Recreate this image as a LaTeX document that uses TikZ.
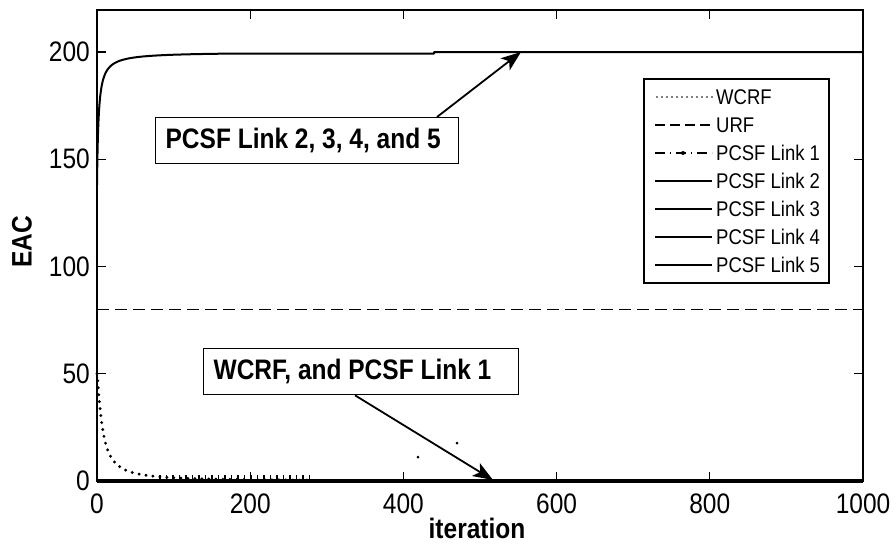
\documentclass[tikz,border=0pt]{standalone}
\usepackage{graphicx}
\usepackage{fontspec}
\setmainfont{Liberation Sans}
\usetikzlibrary{calc,arrows.meta}
% text in this figure is set slightly taller than wide
\newcommand{\tallbox}[1]{\scalebox{1}[1.15]{#1}}

\begin{document}
\begin{tikzpicture}[x=1pt,y=-1pt,
  axisline/.style={line width=1.4pt},
  tickmark/.style={line width=1.1pt},
  ticklab/.style={font=\fontsize{24.5}{28}\selectfont, inner sep=0pt},
  boldlab/.style={font=\bfseries\fontsize{24.5}{28}\selectfont, inner sep=0pt},
  annot/.style={draw, line width=1.3pt, anchor=north west,
    font=\bfseries\fontsize{24.5}{28}\selectfont,
    minimum height=46pt, inner xsep=10pt, inner ysep=0pt},
  legtext/.style={anchor=west, inner sep=0pt, font=\fontsize{18.5}{22}\selectfont},
  pointer/.style={line width=1.8pt, -{Stealth[length=20pt,width=15pt,inset=5pt]}},
  curve/.style={line width=2pt, line join=round},
  dotcurve/.style={line width=3.2pt, line cap=round, dash pattern=on 0pt off 7pt},
  dashcurve/.style={line width=1.4pt, dash pattern=on 12pt off 6pt},
]
\useasboundingbox (0,0) rectangle (896,550);
\fill[white] (0,0) rectangle (896,550);

% ---- data curves (iteration on x, EAC on y) ----
\begin{scope}[shift={(97,481)}, x=0.766pt, y=2.145pt]
  % URF
  \draw[dashcurve] (0,80) -- (1000,80);
  % WCRF
  \draw[dotcurve] plot[domain=0:16.73, samples=140, variable=\s]
    ({\s*\s}, {50/(1+(\s*\s/7)^1.3)});
  % PCSF Link 2..5
  \draw[curve] plot[domain=0:13.04, samples=90, variable=\s]
    ({\s*\s}, {200-130/(\s*\s+2.1)})
    -- (440,199.3) -- (440,200) -- (1000,200);
  % PCSF Link 1 (flat at zero)
  \draw[line width=4.5pt] (0,0) -- (1000,0);
\end{scope}

% Link 1 point markers along the bottom
\foreach \i in {0,...,23}
  \draw[line width=1.3pt] ({160+6.5*\i},481) -- ++(0,-6);
\fill (418,457) circle (1.5);
\fill (457,443) circle (1.5);

% ---- axes frame and ticks ----
\draw[axisline] (97,10) rectangle (863,481);
\foreach \px in {250.2,403.4,556.6,709.8} {
  \draw[tickmark] (\px,481) -- (\px,472);
  \draw[tickmark] (\px,10) -- (\px,19);
}
\foreach \py in {373.75,266.5,159.25,52} {
  \draw[tickmark] (97,\py) -- (106,\py);
  \draw[tickmark] (863,\py) -- (854,\py);
}

% tick labels
\foreach \px/\lab in {97/0,250.2/200,403.4/400,556.6/600,709.8/800,863/1000}
  \node[ticklab] (xl\lab) at (\px,504) {\tallbox{\lab}};
\foreach \py/\lab in {481/0,373.75/50,266.5/100,159.25/150,52/200}
  \node[ticklab, anchor=east] (yl\lab) at (90,\py) {\tallbox{\lab}};

% axis titles
\node[boldlab] (xtitle) at (477,528) {\tallbox{iteration}};
\node[boldlab, rotate=90] (ytitle) at (22,242) {\tallbox{EAC}};

% ---- legend ----
\draw[line width=1.1pt] (644,79) rectangle (829,283);
\draw[line width=1.8pt, line cap=round, dash pattern=on 0pt off 5pt] (657,97) -- (712,97);
\node[legtext] (lg1) at (716,97) {\tallbox{WCRF}};
\draw[dashcurve, dash pattern=on 10pt off 5pt] (655,125) -- (712,125);
\node[legtext] (lg2) at (716,125) {\tallbox{URF}};
\draw[line width=1.4pt, dash pattern=on 10pt off 5pt on 1pt off 5pt] (655,153) -- (712,153);
\fill (683,153) circle (2);
\node[legtext] (lg3) at (716,153) {\tallbox{PCSF Link 1}};
\foreach \k/\yy in {2/181,3/209,4/237,5/265} {
  \draw[line width=1.4pt] (655,\yy) -- (712,\yy);
  \node[legtext] (lgl\k) at (716,\yy) {\tallbox{PCSF Link \k}};
}

% ---- annotations ----
\node[annot, minimum width=303pt] (box1) at (155,117)
  {\makebox[283pt][l]{\tallbox{PCSF Link 2, 3, 4, and 5}}};
\node[annot, minimum width=315pt] (box2) at (203,348)
  {\makebox[295pt][l]{\tallbox{WCRF, and PCSF Link 1}}};

\coordinate (tip1) at (521,52);
\coordinate (tip2) at (493,480);
\draw[pointer] ($(box1.north west)+(282,0)$) -- (tip1);
\draw[pointer] ($(box2.south west)+(152,0)$) -- (tip2);
\end{tikzpicture}
\end{document}
